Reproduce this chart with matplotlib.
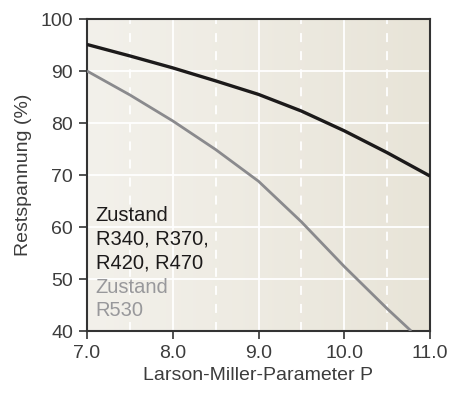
import numpy as np
import matplotlib
matplotlib.use("Agg")
import matplotlib.pyplot as plt
from matplotlib.colors import LinearSegmentedColormap

plt.rcParams['font.family'] = ['Liberation Sans', 'DejaVu Sans']

p_black = [7.0, 7.5, 8.0, 8.5, 9.0, 9.5, 10.0, 10.5, 11.0]
v_black = [95.1, 92.9, 90.6, 88.1, 85.5, 82.3, 78.5, 74.3, 69.8]
p_gray = [7.0, 7.5, 8.0, 8.5, 9.0, 9.5, 10.0, 10.5, 10.78]
v_gray = [90.0, 85.4, 80.4, 74.9, 68.8, 61.0, 52.4, 44.3, 40.0]
x_ticks = [7.0, 8.0, 9.0, 10.0, 11.0]
x_ticklabels = ["7.0", "8.0", "9.0", "10.0", "11.0"]
y_ticks = [40, 50, 60, 70, 80, 90, 100]
black_lines = ["Zustand", "R340, R370,", "R420, R470"]
gray_lines = ["Zustand", "R530"]

fig = plt.figure(figsize=(4.52, 3.96), dpi=100)
ax = fig.add_axes([87/452, 1-331/396, (430-87)/452, (331-19)/396])

cmap = LinearSegmentedColormap.from_list("bg", ["#f3f1eb", "#e8e4d8"])
grad = np.linspace(0, 1, 256).reshape(1, -1)
ax.imshow(grad, cmap=cmap, extent=[7, 11, 40, 100], aspect='auto', zorder=0)

for y in y_ticks[1:-1]:
    ax.axhline(y, color='white', lw=1.3, zorder=1)
for x in x_ticks[1:-1]:
    ax.axvline(x, color='white', lw=1.3, zorder=1)
for x in [7.5, 8.5, 9.5, 10.5]:
    ax.axvline(x, color='white', lw=1.3, ls=(0, (5, 5)), zorder=1)

ax.plot(p_black, v_black, color='#1c1a1a', lw=2.4, zorder=3, solid_capstyle='butt')
ax.plot(p_gray, v_gray, color='#8a8a8d', lw=2.0, zorder=3, solid_capstyle='butt')

ax.set_xlim(7, 11)
ax.set_ylim(40, 100)
ax.set_xticks(x_ticks)
ax.set_xticklabels(x_ticklabels)
ax.set_yticks(y_ticks)
ax.tick_params(direction='out', length=6, width=1.2, color='#333333',
               labelsize=14, labelcolor='#3c3c3c', pad=4)
for s in ax.spines.values():
    s.set_color('#333333')
    s.set_linewidth(1.5)

ax.set_xlabel("Larson-Miller-Parameter P", fontsize=14, color='#3c3c3c', labelpad=4)
ax.set_ylabel("Restspannung (%)", fontsize=14, color='#3c3c3c', labelpad=6)

ys = [61.2, 56.6, 52.0]
for t, y in zip(black_lines, ys):
    ax.text(7.1, y, t, fontsize=14.5, color='#1c1a1a', va='baseline', ha='left', zorder=4)
ys2 = [47.4, 42.8]
for t, y in zip(gray_lines, ys2):
    ax.text(7.1, y, t, fontsize=14.5, color='#98989b', va='baseline', ha='left', zorder=4)

fig.savefig("out.png", dpi=100)
